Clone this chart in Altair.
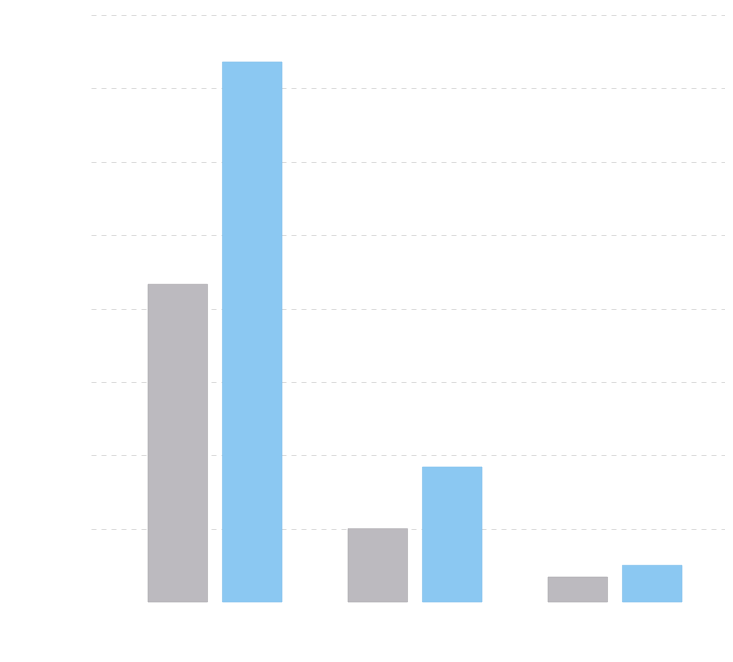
import altair as alt
import pandas as pd

groups = ["A", "B", "C"]
series = ["Series 1", "Series 2"]
series1_values = [4.33, 1.0, 0.34]
series2_values = [7.36, 1.84, 0.50]
colors = ["#bcbabf", "#8bc8f2"]
strokes = ["#a9a7ac", "#7dbdea"]

rows = []
for g, v1, v2 in zip(groups, series1_values, series2_values):
    rows.append({"group": g, "series": series[0], "value": v1})
    rows.append({"group": g, "series": series[1], "value": v2})
df = pd.DataFrame(rows)

chart = alt.Chart(df).mark_bar(strokeWidth=1, strokeOpacity=0.6).encode(
    x=alt.X("group:N", axis=None,
            scale=alt.Scale(paddingInner=0.33, paddingOuter=0.25, align=0.57)),
    xOffset=alt.XOffset("series:N", scale=alt.Scale(paddingInner=0.2, paddingOuter=0)),
    y=alt.Y("value:Q",
            scale=alt.Scale(domain=[0, 8], nice=False),
            axis=alt.Axis(values=[1, 2, 3, 4, 5, 6, 7, 8], labels=False, ticks=False,
                          domain=False, title=None, grid=True, gridColor="#dcdcdc",
                          gridDash=[5, 5], gridWidth=1)),
    color=alt.Color("series:N", scale=alt.Scale(domain=series, range=colors), legend=None),
    stroke=alt.Stroke("series:N", scale=alt.Scale(domain=series, range=strokes), legend=None),
).properties(
    width=634,
    height=587,
    padding={"left": 83, "top": 7, "right": 0, "bottom": 40},
    autosize=alt.AutoSizeParams(type="none"),
).configure_view(stroke=None)

chart.save("out.html", embed_options={"renderer": "svg", "actions": False})
